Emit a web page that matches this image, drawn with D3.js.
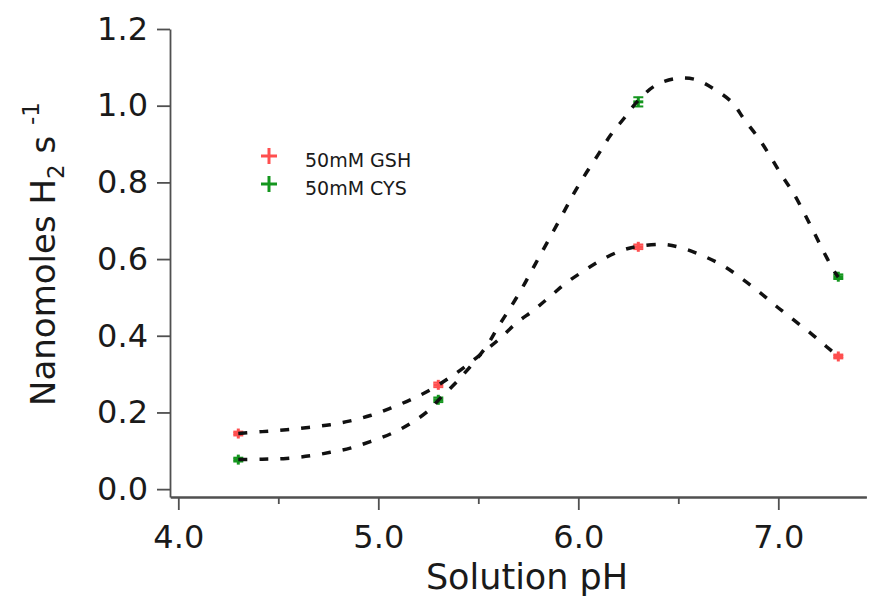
<!DOCTYPE html>
<html>
<head>
<meta charset="utf-8">
<script src="https://cdn.jsdelivr.net/npm/d3@7"></script>
<style>
  body { margin: 0; background: #fff; }
  svg { display: block; }
  text { font-family: "DejaVu Sans", sans-serif; fill: #1a1a1a; }
</style>
</head>
<body>
<svg></svg>
<script>
// SVG
var width = 870;
var height = 606;

// Data setup
var phValues = [4.3, 5.3, 6.3, 7.3];
var gshValues = [0.145, 0.272, 0.632, 0.346];
var gshErr = [0.005, 0.006, 0.006, 0.005];
var cysValues = [0.077, 0.233, 1.010, 0.554];
var cysErr = [0.005, 0.006, 0.012, 0.006];

// fitted curves
var gshFitPH = [4.30, 4.42, 4.54, 4.65, 4.76, 4.86, 4.96, 5.06, 5.16, 5.26, 5.36, 5.44, 5.53, 5.61, 5.69, 5.78, 5.86, 5.94, 6.03, 6.12, 6.22, 6.30, 6.43, 6.53, 6.63, 6.73, 6.82, 6.91, 6.99, 7.08, 7.17, 7.24, 7.30];
var gshFit = [0.145, 0.150, 0.155, 0.161, 0.168, 0.178, 0.192, 0.211, 0.233, 0.259, 0.292, 0.322, 0.359, 0.394, 0.433, 0.468, 0.503, 0.538, 0.570, 0.599, 0.623, 0.633, 0.638, 0.627, 0.607, 0.581, 0.548, 0.512, 0.477, 0.440, 0.403, 0.372, 0.346];
var cysFitPH = [4.30, 4.42, 4.54, 4.66, 4.76, 4.86, 4.96, 5.07, 5.17, 5.26, 5.30, 5.41, 5.54, 5.60, 5.66, 5.72, 5.77, 5.82, 5.93, 5.98, 6.04, 6.10, 6.16, 6.23, 6.29, 6.38, 6.48, 6.58, 6.68, 6.77, 6.83, 6.90, 6.96, 7.02, 7.08, 7.18, 7.23, 7.28, 7.30];
var cysFit = [0.077, 0.078, 0.080, 0.087, 0.096, 0.107, 0.124, 0.146, 0.174, 0.209, 0.232, 0.290, 0.372, 0.424, 0.473, 0.525, 0.573, 0.620, 0.725, 0.773, 0.825, 0.873, 0.922, 0.968, 1.008, 1.051, 1.070, 1.069, 1.043, 1.008, 0.964, 0.916, 0.868, 0.816, 0.768, 0.668, 0.616, 0.568, 0.553];

var yTicks = [0, 0.2, 0.4, 0.6, 0.8, 1.0, 1.2];
var xTicks = [4, 5, 6, 7];
var xMinorTicks = [4.5, 5.5, 6.5];
var seriesNames = ["50mM GSH", "50mM CYS"];
var seriesColors = ["#ff4f4f", "#14961e"];

// Axis setup
var xScale = d3.scaleLinear()
    .domain([3.96, 7.44])
    .range([170.3, 866.3]);

var yScale = d3.scaleLinear()
    .domain([-0.0205, 1.2])
    .range([497, 29]);

var svg = d3.select("svg")
    .attr("width", width)
    .attr("height", height);

var xAxis = d3.axisBottom(xScale)
    .tickValues(xTicks)
    .tickFormat(d3.format(".1f"))
    .tickSize(13)
    .tickSizeOuter(0)
    .tickPadding(15);

var xMinor = d3.axisBottom(xScale)
    .tickValues(xMinorTicks)
    .tickFormat("")
    .tickSize(7)
    .tickSizeOuter(0);

var yAxis = d3.axisLeft(yScale)
    .tickValues(yTicks)
    .tickFormat(d3.format(".1f"))
    .tickSize(13)
    .tickSizeOuter(0)
    .tickPadding(9);

svg.append("g")
    .attr("transform", "translate(0,497)")
    .call(xAxis);
svg.append("g")
    .attr("transform", "translate(0,497)")
    .call(xMinor);
svg.append("g")
    .attr("transform", "translate(170,0)")
    .call(yAxis);

svg.selectAll(".domain, .tick line")
    .attr("stroke", "#505050")
    .attr("stroke-width", 1.8);
svg.selectAll(".tick text")
    .attr("font-family", "DejaVu Sans")
    .attr("font-size", 32)
    .attr("fill", "#1a1a1a");

// Axis titles
svg.append("text")
    .attr("x", 527)
    .attr("y", 589)
    .attr("text-anchor", "middle")
    .attr("font-size", 35)
    .text("Solution pH");

var yt = svg.append("text")
    .attr("transform", "translate(55,254) rotate(-90)")
    .attr("text-anchor", "middle")
    .attr("font-size", 34);
yt.append("tspan").text("Nanomoles H");
yt.append("tspan").attr("font-size", 23).attr("dy", 9).text("2");
yt.append("tspan").attr("dy", -9).text(" s ");
yt.append("tspan").attr("font-size", 23).attr("dy", -16).text("-1");

// Markers with error bars
function drawPoints(vals, errs, color) {
    var g = svg.append("g").attr("stroke", color).attr("stroke-width", 3);
    phValues.forEach(function(p, i) {
        var cx = xScale(p), cy = yScale(vals[i]);
        var top = yScale(vals[i] + errs[i]), bot = yScale(vals[i] - errs[i]);
        g.append("line").attr("x1", cx - 5).attr("x2", cx + 5).attr("y1", cy).attr("y2", cy);
        g.append("line").attr("x1", cx).attr("x2", cx).attr("y1", Math.min(top, cy - 5)).attr("y2", Math.max(bot, cy + 5));
        g.append("line").attr("x1", cx - 5).attr("x2", cx + 5).attr("y1", top).attr("y2", top).attr("stroke-width", 2);
        g.append("line").attr("x1", cx - 5).attr("x2", cx + 5).attr("y1", bot).attr("y2", bot).attr("stroke-width", 2);
    });
}
drawPoints(gshValues, gshErr, seriesColors[0]);
drawPoints(cysValues, cysErr, seriesColors[1]);

// Fit lines
var line = d3.line()
    .x(function(d) { return xScale(d[0]); })
    .y(function(d) { return yScale(d[1]); })
    .curve(d3.curveCatmullRom.alpha(0.5));

[[gshFitPH, gshFit], [cysFitPH, cysFit]].forEach(function(s) {
    svg.append("path")
        .attr("fill", "none")
        .attr("stroke", "#111")
        .attr("stroke-width", 3.5)
        .attr("stroke-dasharray", "9,12")
        .attr("d", line(s[0].map(function(p, i) { return [p, s[1][i]]; })));
});

// Legend
var legY = [156, 184];
seriesNames.forEach(function(name, i) {
    var lg = svg.append("g").attr("transform", "translate(269," + legY[i] + ")");
    lg.append("line").attr("x1", -8).attr("x2", 8).attr("stroke", seriesColors[i]).attr("stroke-width", 3);
    lg.append("line").attr("y1", -8).attr("y2", 8).attr("stroke", seriesColors[i]).attr("stroke-width", 3);
    lg.append("text")
        .attr("x", 36)
        .attr("y", 10.5)
        .attr("font-size", 19)
        .attr("fill", "#2b2b2b")
        .text(name);
});
</script>
</body>
</html>
